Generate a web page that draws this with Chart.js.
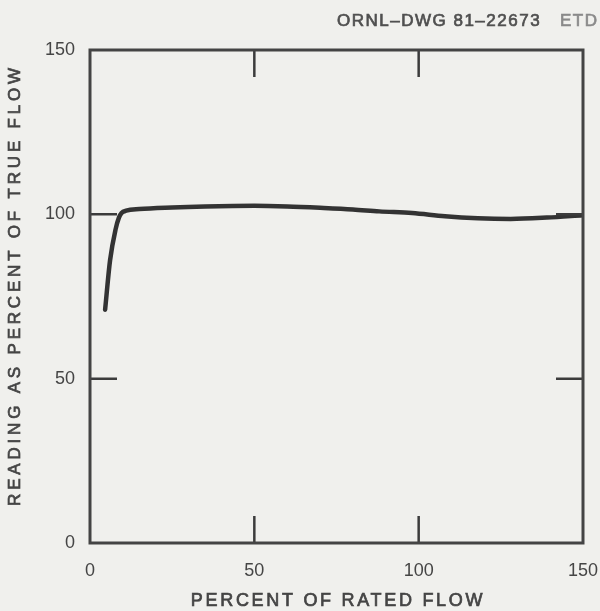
<!DOCTYPE html>
<html>
<head>
<meta charset="utf-8">
<script src="https://cdn.jsdelivr.net/npm/chart.js@4.4.1/dist/chart.umd.min.js"></script>
<style>
  html, body { margin: 0; padding: 0; background: #f0f0ed; }
  #wrap { width: 600px; height: 611px; }
</style>
</head>
<body>
<div id="wrap"><canvas id="c" width="600" height="611"></canvas></div>
<script>
// Flowmeter reading vs. flow rate
const flowPercent = [4.6, 6.1, 7.8, 8.8, 9.6, 11, 15, 25, 35, 50, 60, 70, 80, 88, 98, 108, 118, 128, 139, 150];
const readingPercent = [71, 86, 95.5, 99, 100.4, 101.1, 101.6, 102.1, 102.4, 102.6, 102.4, 102, 101.5, 100.9, 100.4, 99.4, 98.8, 98.6, 99.0, 99.7];
const xTicks = [0, 50, 100, 150];
const yTicks = [0, 50, 100, 150];
const innerTickValues = [50, 100];

const drawingNumber = 'ORNL\u2013DWG 81\u201322673';
const drawingSuffix = 'ETD';
const xTitle = 'PERCENT OF RATED FLOW';
const yTitle = 'READING AS PERCENT OF TRUE FLOW';

const FONT = "'Liberation Sans', Arial, Helvetica, sans-serif";
const INK = '#454545';

// fill plus a hairline stroke gives the slightly heavy lettering
function heavyText(ctx, text, x, y, color) {
  ctx.fillStyle = color;
  ctx.strokeStyle = color;
  ctx.lineWidth = 0.7;
  ctx.fillText(text, x, y);
  ctx.strokeText(text, x, y);
}

const framePlugin = {
  id: 'frame',
  beforeDraw(chart) {
    const ctx = chart.ctx;
    ctx.save();
    ctx.fillStyle = '#f0f0ed';
    ctx.fillRect(0, 0, chart.width, chart.height);
    ctx.restore();
  },
  afterDraw(chart) {
    const ctx = chart.ctx;
    const a = chart.chartArea;
    const xs = chart.scales.x, ys = chart.scales.y;
    ctx.save();
    // inward tick marks on all four sides
    ctx.strokeStyle = '#3c3c3c';
    ctx.lineWidth = 2.5;
    const len = 27;
    ctx.beginPath();
    innerTickValues.forEach(v => {
      const px = xs.getPixelForValue(v);
      ctx.moveTo(px, a.top); ctx.lineTo(px, a.top + len);
      ctx.moveTo(px, a.bottom); ctx.lineTo(px, a.bottom - len);
      const py = ys.getPixelForValue(v);
      ctx.moveTo(a.left, py); ctx.lineTo(a.left + len, py);
      ctx.moveTo(a.right, py); ctx.lineTo(a.right - len, py);
    });
    ctx.stroke();
    // plot frame
    ctx.strokeStyle = '#444';
    ctx.lineWidth = 3;
    ctx.strokeRect(a.left, a.top, a.right - a.left, a.bottom - a.top);

    // axis titles
    ctx.textBaseline = 'middle';
    ctx.textAlign = 'center';
    ctx.font = '18px ' + FONT;
    ctx.letterSpacing = '2.7px';
    heavyText(ctx, xTitle, (a.left + a.right) / 2 + 1.5, 601, INK);

    ctx.save();
    ctx.translate(15, 287);
    ctx.rotate(-Math.PI / 2);
    ctx.font = '17px ' + FONT;
    ctx.letterSpacing = '3.8px';
    heavyText(ctx, yTitle, 2, 0, INK);
    ctx.restore();

    // drawing number
    ctx.textAlign = 'left';
    ctx.font = '17px ' + FONT;
    ctx.letterSpacing = '1.5px';
    heavyText(ctx, drawingNumber, 337, 21, '#505050');
    heavyText(ctx, drawingSuffix, 560, 21, '#8a8a8a');
    ctx.restore();
  }
};

new Chart(document.getElementById('c'), {
  type: 'line',
  data: {
    datasets: [{
      data: flowPercent.map((x, i) => ({ x, y: readingPercent[i] })),
      borderColor: '#333',
      borderWidth: 4.5,
      borderCapStyle: 'round',
      borderJoinStyle: 'round',
      pointRadius: 0,
      cubicInterpolationMode: 'monotone',
      fill: false
    }]
  },
  options: {
    responsive: false,
    animation: false,
    devicePixelRatio: 1,
    layout: { padding: { top: 50, right: 0, left: 0, bottom: 0 } },
    plugins: { legend: { display: false }, tooltip: { enabled: false } },
    scales: {
      x: {
        type: 'linear', min: 0, max: 150,
        afterBuildTicks: s => { s.ticks = xTicks.map(v => ({ value: v })); },
        afterFit: s => { s.height = 68; s.paddingLeft = 0; s.paddingRight = 17; },
        grid: { display: false, drawTicks: false },
        border: { display: false },
        ticks: { color: INK, font: { family: FONT, size: 18 }, padding: 17, maxRotation: 0 }
      },
      y: {
        type: 'linear', min: 0, max: 150,
        afterBuildTicks: s => { s.ticks = yTicks.map(v => ({ value: v })); },
        afterFit: s => { s.width = 90; },
        grid: { display: false, drawTicks: false },
        border: { display: false },
        ticks: { color: INK, font: { family: FONT, size: 18 }, padding: 15 }
      }
    }
  },
  plugins: [framePlugin]
});
</script>
</body>
</html>
